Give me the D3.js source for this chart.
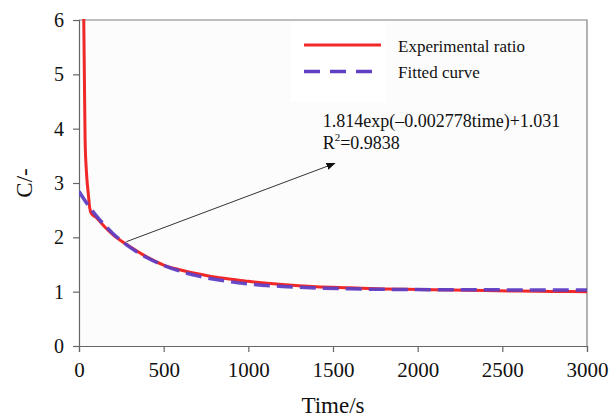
<!DOCTYPE html>
<html>
<head>
<meta charset="utf-8">
<script src="https://cdn.jsdelivr.net/npm/d3@7"></script>
<style>
  body { margin: 0; background: #fff; }
  svg text { font-family: "Liberation Serif", "Times New Roman", serif; }
</style>
</head>
<body>
<svg id="chart"></svg>
<script>
// experimental ratio
const expTime  = [28, 32, 36, 44, 55, 63, 73, 100, 150, 200, 300, 400, 500, 600, 700, 800, 900, 1000, 1200, 1400, 1600, 1800, 2000, 2200, 2400, 2600, 2800, 3000];
const expRatio = [6.05, 4.9, 3.8, 3.2, 2.8, 2.55, 2.44, 2.37, 2.2, 2.05, 1.83, 1.64, 1.49, 1.40, 1.33, 1.27, 1.23, 1.19, 1.13, 1.09, 1.07, 1.05, 1.04, 1.03, 1.02, 1.01, 1.005, 1.0];

// fitted curve
const fitTime  = [0, 50, 100, 150, 200, 300, 400, 500, 600, 700, 800, 900, 1000, 1200, 1400, 1600, 1800, 2000, 2250, 2500, 2750, 3000];
const fitRatio = [2.845, 2.61, 2.405, 2.227, 2.072, 1.819, 1.628, 1.483, 1.374, 1.29, 1.228, 1.18, 1.144, 1.096, 1.068, 1.052, 1.043, 1.038, 1.035, 1.033, 1.032, 1.031];

const xTicks = [0, 500, 1000, 1500, 2000, 2500, 3000];
const yTicks = [0, 1, 2, 3, 4, 5, 6];

const seriesNames = ["Experimental ratio", "Fitted curve"];
const eqText = "1.814exp(\u20130.002778time)+1.031";
const r2Value = "=0.9838";
// arrow from curve to the equation [time, ratio]
const arrowFrom = [280, 1.92];
const arrowTo = [1510, 3.36];
const eqAt = [1439, 4.03];

const serif = "Liberation Serif";
const width = 614, height = 418;
const margin = { top: 20, right: 27, bottom: 72, left: 79 };

const svg = d3.select("#chart").attr("width", width).attr("height", height)
  .attr("font-family", serif);

const x = d3.scaleLinear().domain([0, 3000]).range([margin.left, width - margin.right]);
const y = d3.scaleLinear().domain([0, 6]).range([height - margin.bottom, margin.top]);

svg.append("defs").append("clipPath").attr("id", "clip")
  .append("rect")
  .attr("x", x(0)).attr("y", y(6) - 1)
  .attr("width", x(3000) - x(0)).attr("height", y(0) - y(6) + 1);

svg.append("marker")
  .attr("id", "arrow")
  .attr("viewBox", "0 0 10 10")
  .attr("refX", 9).attr("refY", 5)
  .attr("markerWidth", 9).attr("markerHeight", 9)
  .attr("markerUnits", "userSpaceOnUse")
  .attr("orient", "auto")
  .append("path").attr("d", "M0,1 L10,5 L0,9 Z").attr("fill", "#111");

// plot background
svg.append("rect")
  .attr("x", x(0)).attr("y", y(6))
  .attr("width", x(3000) - x(0)).attr("height", y(0) - y(6))
  .attr("fill", "#fcfcfc");

// frame top/right
svg.append("path")
  .attr("d", `M${x(0)},${y(6)}H${x(3000)}V${y(0)}`)
  .attr("fill", "none").attr("stroke", "#808080").attr("stroke-width", 1.2);

// axes
const xAxis = svg.append("g")
  .attr("transform", `translate(0,${y(0)})`)
  .call(d3.axisBottom(x).tickValues(xTicks).tickSize(6).tickPadding(10).tickFormat(d3.format("d")));
const yAxis = svg.append("g")
  .attr("transform", `translate(${x(0)},0)`)
  .call(d3.axisLeft(y).tickValues(yTicks).tickSize(6).tickPadding(9).tickFormat(d3.format("d")));

[xAxis, yAxis].forEach(a => {
  a.attr("font-family", serif);
  a.select(".domain").attr("stroke", "#666").attr("stroke-width", 1.2);
  a.selectAll(".tick line").attr("stroke", "#666").attr("stroke-width", 1.2);
  a.selectAll(".tick text").attr("fill", "#111");
});
xAxis.attr("font-size", 21);
yAxis.attr("font-size", 20);

// curves
const line = d3.line().x(d => x(d[0])).y(d => y(d[1])).curve(d3.curveMonotoneX);
const plot = svg.append("g").attr("clip-path", "url(#clip)");

plot.append("path")
  .datum(d3.zip(expTime, expRatio))
  .attr("d", line)
  .attr("fill", "none").attr("stroke", "#f02828").attr("stroke-width", 3);

plot.append("path")
  .datum(d3.zip(fitTime, fitRatio))
  .attr("d", line)
  .attr("fill", "none").attr("stroke", "#5f3fc4").attr("stroke-width", 3.5)
  .attr("stroke-dasharray", "16,7").attr("opacity", 0.95);

// legend
const lg = svg.append("g");
lg.append("rect").attr("x", 291).attr("y", 22).attr("width", 95).attr("height", 80).attr("fill", "#fff");
lg.append("line").attr("x1", 304).attr("x2", 381).attr("y1", 45).attr("y2", 45)
  .attr("stroke", "#f02828").attr("stroke-width", 3);
lg.append("line").attr("x1", 304).attr("x2", 374).attr("y1", 71.5).attr("y2", 71.5)
  .attr("stroke", "#5f3fc4").attr("stroke-width", 3.5).attr("stroke-dasharray", "16,10");
lg.selectAll("text.lab").data(seriesNames).join("text")
  .attr("class", "lab")
  .attr("x", 398).attr("y", (d, i) => 51.5 + i * 26)
  .attr("font-size", 17).attr("fill", "#111")
  .text(d => d);

// annotation
svg.append("line")
  .attr("x1", x(arrowFrom[0])).attr("y1", y(arrowFrom[1]))
  .attr("x2", x(arrowTo[0])).attr("y2", y(arrowTo[1]))
  .attr("stroke", "#333").attr("stroke-width", 1)
  .attr("marker-end", "url(#arrow)");

svg.append("text")
  .attr("x", x(eqAt[0])).attr("y", y(eqAt[1]))
  .attr("font-size", 18).attr("fill", "#111")
  .text(eqText);
const r2 = svg.append("text")
  .attr("x", x(eqAt[0])).attr("y", y(eqAt[1]) + 22)
  .attr("font-size", 18).attr("fill", "#111");
r2.append("tspan").text("R");
r2.append("tspan").attr("font-size", 11).attr("dy", -8).text("2");
r2.append("tspan").attr("dy", 8).text(r2Value);

// axis titles
svg.append("text")
  .attr("x", (x(0) + x(3000)) / 2).attr("y", 413)
  .attr("text-anchor", "middle").attr("font-size", 23).attr("fill", "#111")
  .text("Time/s");
svg.append("text")
  .attr("transform", `translate(32,${y(3.0)})rotate(-90)`)
  .attr("text-anchor", "middle").attr("font-size", 23).attr("fill", "#111")
  .text("C/-");
</script>
</body>
</html>
